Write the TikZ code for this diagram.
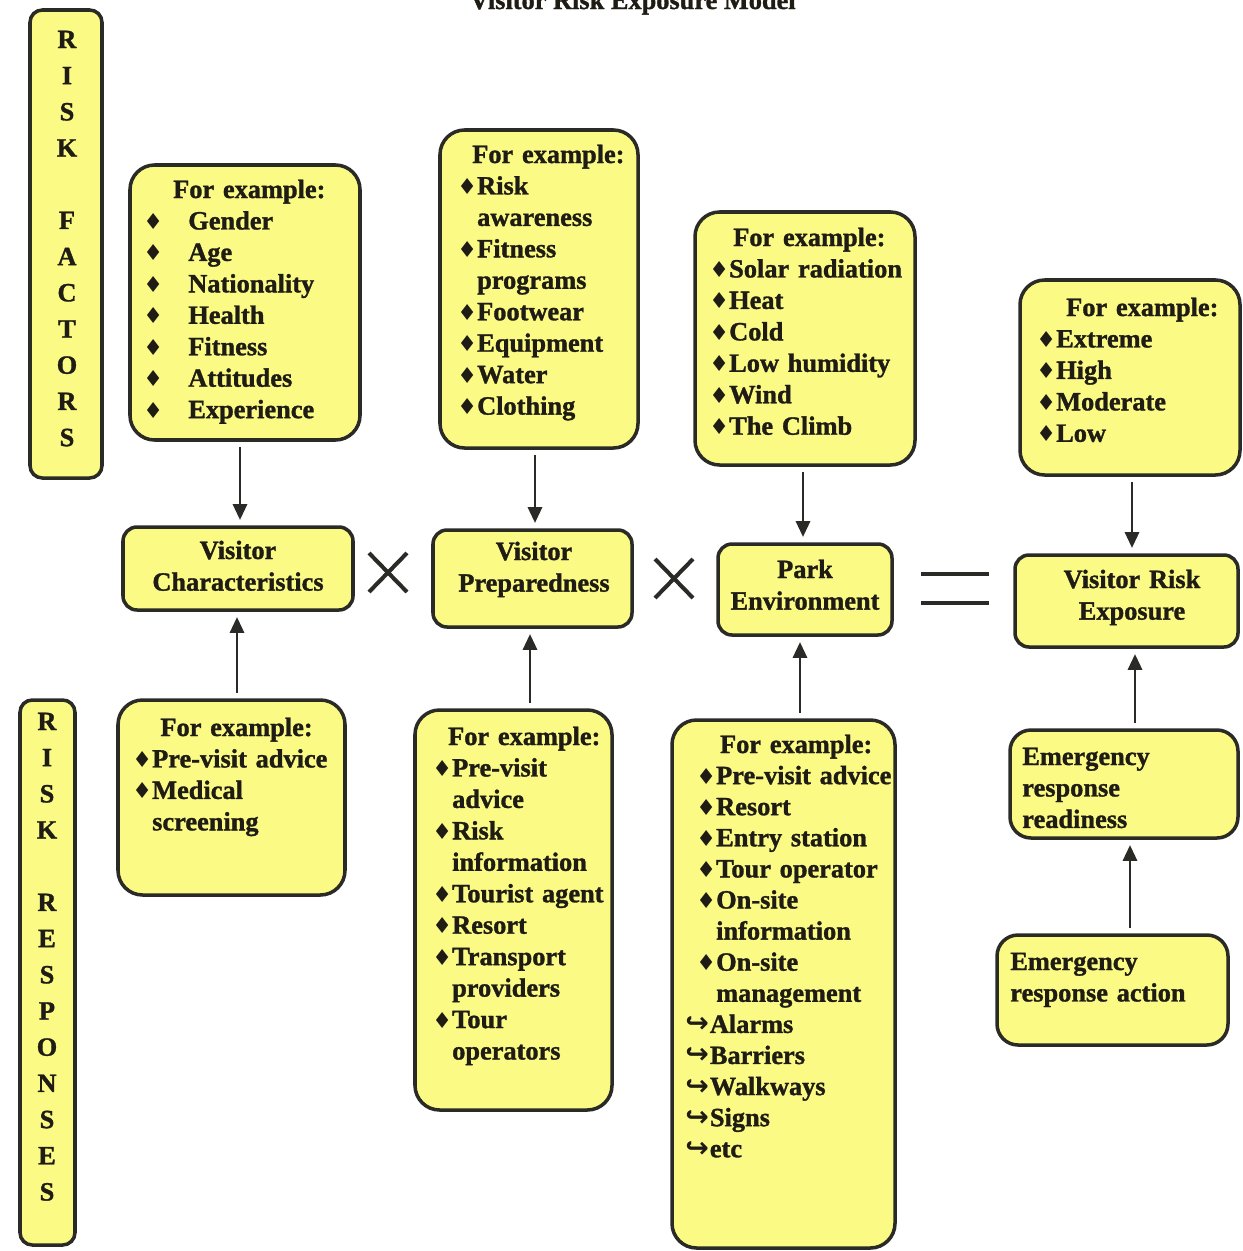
\documentclass[tikz,border=0pt]{standalone}
\usepackage{fontspec}
\setmainfont{Liberation Serif}[BoldFeatures={FakeBold=1.2}]
\newfontfamily\symfont{DejaVu Sans}
\usetikzlibrary{fit,arrows.meta}
\definecolor{boxfill}{HTML}{FAFA84}
\definecolor{edge}{HTML}{2A2A26}
\definecolor{ink}{HTML}{1E1C14}
\newcommand\dmchar{{\symfont\fontsize{12.5}{12.5}\selectfont ♦}}
\newcommand\wideitem[1]{\makebox[25.6pt][l]{\dmchar}#1}
\newcommand\bul[1]{\makebox[11.3pt][l]{\dmchar}#1}
\newcommand\cnt[1]{\hspace*{11.3pt}#1}
\newcommand\hookit[1]{\hspace*{-6.3pt}\makebox[14pt][l]{\symfont\fontsize{16}{16}\selectfont ↪}#1}
\tikzset{
  x=0.02cm, y=-0.02cm,
  bigbox/.style={draw=edge, line width=2pt, fill=boxfill, rounded corners=14pt, inner sep=0pt},
  midbox/.style={draw=edge, line width=2pt, fill=boxfill, rounded corners=8pt, inner sep=0pt},
  midtxt/.style={text width=6cm, align=center, inner sep=0pt, anchor=base, text=ink,
    font=\bfseries\fontsize{15}{18}\selectfont},
  barbox/.style={draw=edge, line width=2pt, fill=boxfill, rounded corners=7pt, inner sep=0pt},
  txt/.style={text width=6cm, align=left, inner sep=0pt, anchor=base west, text=ink,
    font=\bfseries\fontsize{15}{17.9}\selectfont},
  bartxt/.style={text width=20pt, align=center, inner sep=0pt, anchor=base, text=ink,
    font=\bfseries\fontsize{15}{20.6}\selectfont},
  arr/.style={draw=edge, line width=1.6pt, -{Triangle[length=9pt,width=8pt]},
    shorten <=3pt, shorten >=3pt},
  opline/.style={draw=edge, line width=2.3pt},
}
\begin{document}
\begin{tikzpicture}
\clip (0,0) rectangle (1242,1251);
\useasboundingbox (0,0) rectangle (1242,1251);

% title (cut off at top, as in the original)
\node[anchor=base east, inner sep=0pt, text=ink, font=\bfseries\fontsize{15}{18}\selectfont] (title) at (796,9) {Visitor Risk Exposure Model};

% vertical bars
\node[barbox, fit={(30,10) (102,478)}] (rf) {};
\node[bartxt] (rft) at (67,48) {R\\I\\S\\K\\\mbox{}\\F\\A\\C\\T\\O\\R\\S};
\node[barbox, fit={(20,700) (75,1245)}] (rr) {};
\node[bartxt] (rrt) at (47,730) {R\\I\\S\\K\\\mbox{}\\R\\E\\S\\P\\O\\N\\S\\E\\S};

% top example boxes
\node[bigbox, fit={(130,165) (360,440)}] (a1) {};
\node[txt] (a1t) at (143,198) {\hspace*{17pt}For example:\\
\wideitem{Gender}\\ \wideitem{Age}\\ \wideitem{Nationality}\\ \wideitem{Health}\\
\wideitem{Fitness}\\ \wideitem{Attitudes}\\ \wideitem{Experience}};

\node[bigbox, fit={(440,130) (638,448)}] (a2) {};
\node[txt] (a2t) at (457,163) {\hspace*{8.5pt}For example:\\
\bul{Risk}\\ \cnt{awareness}\\ \bul{Fitness}\\ \cnt{programs}\\ \bul{Footwear}\\
\bul{Equipment}\\ \bul{Water}\\ \bul{Clothing}};

\node[bigbox, fit={(695,212) (915,465)}] (a3) {};
\node[txt] (a3t) at (709,246) {\hspace*{13.6pt}For example:\\
\bul{Solar radiation}\\ \bul{Heat}\\ \bul{Cold}\\ \bul{Low humidity}\\ \bul{Wind}\\ \bul{The Climb}};

\node[bigbox, fit={(1020,280) (1240,475)}] (a4) {};
\node[txt] (a4t) at (1036,316) {\hspace*{17pt}For example:\\
\bul{Extreme}\\ \bul{High}\\ \bul{Moderate}\\ \bul{Low}};

% middle row
\node[midbox, fit={(123,527) (353,610)}] (vc) {};
\node[midtxt] (vct) at (238,559) {Visitor\\Characteristics};
\node[midbox, fit={(433,530) (632,627)}] (vp) {};
\node[midtxt] (vpt) at (534,560) {Visitor\\Preparedness};
\node[midbox, fit={(718,544) (892,635)}] (pe) {};
\node[midtxt] (pet) at (805,578) {Park\\Environment};
\node[midbox, fit={(1015,555) (1238,647)}] (vre) {};
\node[midtxt] (vret) at (1132,588) {Visitor Risk\\Exposure};

% operators
\draw[opline] (369,553) -- (407,592);
\draw[opline] (369,592) -- (407,553);
\draw[opline] (655,559) -- (693,598);
\draw[opline] (655,598) -- (693,559);
\draw[opline, line width=2.6pt] (921,574) -- (989,574);
\draw[opline, line width=2.6pt] (921,603) -- (989,603);

% bottom example boxes
\node[bigbox, fit={(118,700) (345,895)}] (b1) {};
\node[txt] (b1t) at (132,736) {\hspace*{16pt}For example:\\
\bul{Pre-visit advice}\\ \bul{Medical}\\ \cnt{screening}};

\node[bigbox, fit={(415,710) (612,1110)}] (b2) {};
\node[txt] (b2t) at (432,745) {\hspace*{9pt}For example:\\
\bul{Pre-visit}\\ \cnt{advice}\\ \bul{Risk}\\ \cnt{information}\\ \bul{Tourist agent}\\
\bul{Resort}\\ \bul{Transport}\\ \cnt{providers}\\ \bul{Tour}\\ \cnt{operators}};

\node[bigbox, fit={(672,720) (895,1248)}] (b3) {};
\node[txt, font=\bfseries\fontsize{15}{17.7}\selectfont] (b3t) at (696,753) {\hspace*{13.5pt}For example:\\
\bul{Pre-visit advice}\\ \bul{Resort}\\ \bul{Entry station}\\ \bul{Tour operator}\\
\bul{On-site}\\ \cnt{information}\\ \bul{On-site}\\ \cnt{management}\\
\hookit{Alarms}\\ \hookit{Barriers}\\ \hookit{Walkways}\\ \hookit{Signs}\\ \hookit{etc}};

\node[bigbox, rounded corners=12pt, fit={(1010,730) (1238,838)}] (err) {};
\node[txt] (errt) at (1022,765) {Emergency\\response\\readiness};

\node[bigbox, rounded corners=12pt, fit={(997,935) (1228,1045)}] (era) {};
\node[txt] (erat) at (1010,970) {Emergency\\response action};

% arrows
\draw[arr] (a1.south -| 240,0) -- (vc.north -| 240,0);
\draw[arr] (a2.south -| 535,0) -- (vp.north -| 535,0);
\draw[arr] (a3.south -| 803,0) -- (pe.north -| 803,0);
\draw[arr] (a4.south -| 1132,0) -- (vre.north -| 1132,0);
\draw[arr] (b1.north -| 237,0) -- (vc.south -| 237,0);
\draw[arr] (b2.north -| 530,0) -- (vp.south -| 530,0);
\draw[arr] (b3.north -| 800,0) -- (pe.south -| 800,0);
\draw[arr] (err.north -| 1135,0) -- (vre.south -| 1135,0);
\draw[arr] (era.north -| 1130,0) -- (err.south -| 1130,0);
\end{tikzpicture}
\end{document}
